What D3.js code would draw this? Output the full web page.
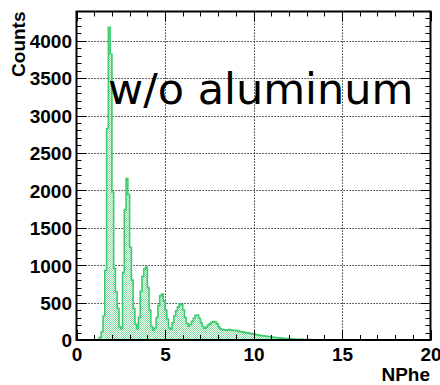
<!DOCTYPE html>
<html>
<head>
<meta charset="utf-8">
<script src="https://cdn.jsdelivr.net/npm/d3@7"></script>
<style>
  html, body { margin: 0; padding: 0; background: #fff; }
  svg { display: block; }
</style>
</head>
<body>
<script>
// Photo-electron spectrum, 200 bins of width 0.1 between 0 and 20
const binLow = 0;
const binWidth = 0.1;
const counts = [
  // 0.0 - 0.9
  0, 0, 0, 0, 0, 0, 0, 0, 0, 0,
  // 1.0 - 1.9
  0, 3, 10, 36, 111, 320, 933, 2827, 4180, 3823,
  // 2.0 - 2.9
  1978, 956, 644, 422, 178, 150, 900, 1742, 2156, 1945,
  // 3.0 - 3.9
  1240, 800, 420, 210, 150, 300, 650, 850, 950, 975,
  // 4.0 - 4.9
  700, 400, 180, 130, 160, 300, 460, 590, 615, 520,
  // 5.0 - 5.9
  400, 280, 160, 145, 230, 320, 390, 440, 485, 470,
  // 6.0 - 6.9
  400, 300, 220, 185, 210, 250, 290, 330, 335, 290,
  // 7.0 - 7.9
  230, 180, 155, 170, 200, 215, 235, 245, 240, 215,
  // 8.0 - 8.9
  175, 145, 140, 135, 130, 135, 138, 132, 128, 130,
  // 9.0 - 9.9
  125, 120, 112, 108, 105, 100, 95, 92, 88, 82,
  // 10.0 - 10.9
  78, 72, 68, 62, 60, 56, 52, 48, 45, 42,
  // 11.0 - 11.9
  38, 35, 33, 30, 28, 26, 24, 22, 20, 18,
  // 12.0 - 12.9
  16, 15, 14, 12, 11, 10, 9, 8, 7, 6,
  // 13.0 - 13.9
  5, 5, 4, 4, 3, 3, 3, 2, 2, 2,
  // 14.0 - 14.9
  2, 1, 1, 1, 1, 1, 0, 0, 0, 0,
  // 15.0 - 19.9
  0, 0, 0, 0, 0, 0, 0, 0, 0, 0,
  0, 0, 0, 0, 0, 0, 0, 0, 0, 0,
  0, 0, 0, 0, 0, 0, 0, 0, 0, 0,
  0, 0, 0, 0, 0, 0, 0, 0, 0, 0,
  0, 0, 0, 0, 0, 0, 0, 0, 0, 0
];

const xDomain = [0, 20];
const yDomain = [0, 4390];
const xMajorTicks = [0, 5, 10, 15, 20];
const xMinorTicks = d3.range(0, 21, 1);
const yMajorTicks = [0, 500, 1000, 1500, 2000, 2500, 3000, 3500, 4000];
const yMinorTicks = d3.range(0, 4390, 100);
const xTitle = "NPhe";
const yTitle = "Counts";
const annotation = "w/o aluminum";

const W = 440, H = 385;
const frame = { left: 76.5, right: 430.5, top: 11.5, bottom: 340 };

const svg = d3.select("body").append("svg")
  .attr("width", W).attr("height", H);

const x = d3.scaleLinear().domain(xDomain).range([frame.left, frame.right]);
const y = d3.scaleLinear().domain(yDomain).range([frame.bottom, frame.top]);

// dotted fill pattern of the histogram
const defs = svg.append("defs");
const pat = defs.append("pattern")
  .attr("id", "dotfill")
  .attr("patternUnits", "userSpaceOnUse")
  .attr("width", 2).attr("height", 2);
pat.append("rect").attr("width", 2).attr("height", 2).attr("fill", "#ffffff");
pat.append("rect").attr("x", 0).attr("y", 0).attr("width", 1).attr("height", 1).attr("fill", "#7fdc9e");
pat.append("rect").attr("x", 1).attr("y", 1).attr("width", 1).attr("height", 1).attr("fill", "#7fdc9e");

// grid lines at the major ticks
const grid = svg.append("g")
  .attr("stroke", "#000").attr("stroke-width", 1)
  .attr("stroke-dasharray", "1.2,1.8").attr("fill", "none");
grid.selectAll("line.gx")
  .data(xMajorTicks.filter(v => v > xDomain[0] && v < xDomain[1]))
  .join("line").attr("class", "gx")
  .attr("x1", d => Math.round(x(d)) + 0.5).attr("x2", d => Math.round(x(d)) + 0.5)
  .attr("y1", frame.top).attr("y2", frame.bottom);
grid.selectAll("line.gy")
  .data(yMajorTicks.filter(v => v > yDomain[0]))
  .join("line").attr("class", "gy")
  .attr("x1", frame.left).attr("x2", frame.right)
  .attr("y1", d => Math.round(y(d)) + 0.5).attr("y2", d => Math.round(y(d)) + 0.5);

// histogram as a step outline with a filled area underneath
const pts = [];
counts.forEach((c, i) => {
  const lo = binLow + i * binWidth, hi = lo + binWidth;
  pts.push([lo, c], [hi, c]);
});
const area = d3.area().x(d => x(d[0])).y0(y(0)).y1(d => y(d[1]));
const line = d3.line().x(d => x(d[0])).y(d => y(d[1]));
svg.append("path").attr("d", area(pts)).attr("fill", "url(#dotfill)");
svg.append("path").attr("d", line(pts))
  .attr("fill", "none").attr("stroke", "#3ccc6e")
  .attr("stroke-width", 1.6).attr("stroke-linejoin", "miter");

// axes: ticks on all four sides of the frame
const bottomAxis = d3.axisBottom(x).tickValues(xMajorTicks).tickSize(0).tickFormat(d3.format("d"));
const tickG = svg.append("g").attr("stroke", "#000").attr("stroke-width", 1);
function tickLen(isMajor) { return isMajor ? 10 : 5; }
xMinorTicks.forEach(v => {
  const major = xMajorTicks.includes(v);
  const px = Math.round(x(v)) + 0.5;
  tickG.append("line").attr("x1", px).attr("x2", px)
    .attr("y1", frame.bottom).attr("y2", frame.bottom - tickLen(major));
  tickG.append("line").attr("x1", px).attr("x2", px)
    .attr("y1", frame.top).attr("y2", frame.top + tickLen(major));
});
yMinorTicks.forEach(v => {
  const major = yMajorTicks.includes(v);
  const py = Math.round(y(v)) + 0.5;
  tickG.append("line").attr("y1", py).attr("y2", py)
    .attr("x1", frame.left).attr("x2", frame.left + tickLen(major));
  tickG.append("line").attr("y1", py).attr("y2", py)
    .attr("x1", frame.right).attr("x2", frame.right - tickLen(major));
});

// frame
svg.append("rect")
  .attr("x", frame.left).attr("y", frame.top)
  .attr("width", frame.right - frame.left).attr("height", frame.bottom - frame.top)
  .attr("fill", "none").attr("stroke", "#000").attr("stroke-width", 2);

// tick labels
const labelFont = "'Liberation Sans', Arial, Helvetica, sans-serif";
const xl = svg.append("g")
  .attr("transform", `translate(0,${frame.bottom})`)
  .call(bottomAxis);
xl.select(".domain").remove();
xl.selectAll("text")
  .attr("y", 0).attr("dy", 0)
  .attr("transform", "translate(0,20.7)")
  .attr("font-family", labelFont).attr("font-weight", "bold")
  .attr("font-size", 19).attr("fill", "#000");

const leftAxis = d3.axisLeft(y).tickValues(yMajorTicks).tickSize(0).tickFormat(d3.format("d"));
const yl = svg.append("g")
  .attr("transform", `translate(${frame.left},0)`)
  .call(leftAxis);
yl.select(".domain").remove();
yl.selectAll("text")
  .attr("x", -4.5).attr("dy", "0.36em")
  .attr("font-family", labelFont).attr("font-weight", "bold")
  .attr("font-size", 19).attr("fill", "#000");

// axis titles
svg.append("text")
  .attr("x", 430).attr("y", 381)
  .attr("text-anchor", "end")
  .attr("font-family", labelFont).attr("font-weight", "bold")
  .attr("font-size", 19).attr("fill", "#000")
  .text(xTitle);
svg.append("text")
  .attr("transform", "translate(25,11.5) rotate(-90)")
  .attr("text-anchor", "end")
  .attr("font-family", labelFont).attr("font-weight", "bold")
  .attr("font-size", 19).attr("fill", "#000")
  .text(yTitle);

// annotation inside the frame
svg.append("text")
  .attr("x", 108).attr("y", 103.5)
  .attr("font-family", "'DejaVu Sans', sans-serif")
  .attr("font-size", 43).attr("fill", "#000")
  .text(annotation);
</script>
</body>
</html>
